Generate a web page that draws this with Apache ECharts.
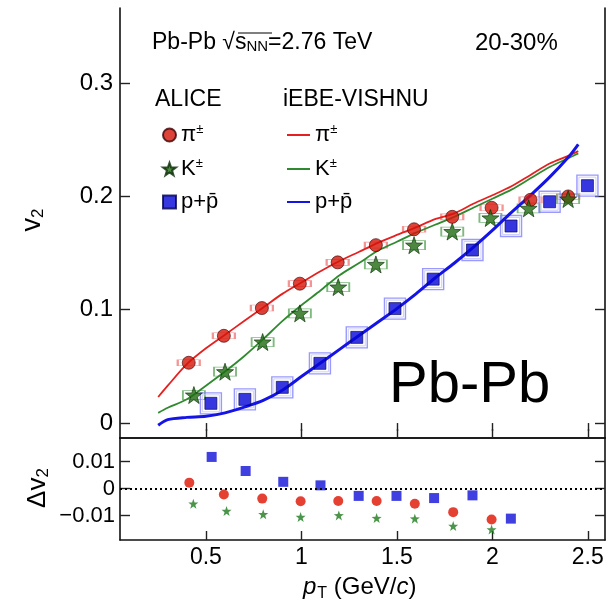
<!DOCTYPE html>
<html>
<head>
<meta charset="utf-8">
<script src="https://cdn.jsdelivr.net/npm/echarts@6/dist/echarts.min.js"></script>
<style>
html,body{margin:0;padding:0;background:#fff;}
#chart{width:616px;height:610px;}
</style>
</head>
<body>
<div id="chart"></div>
<script>
// ---------- data ----------
const pionPt   = [0.41, 0.594, 0.793, 0.992, 1.19, 1.39, 1.59, 1.79, 1.996, 2.2, 2.397];
const pionV2   = [0.0532, 0.077, 0.1015, 0.123, 0.1418, 0.157, 0.171, 0.182, 0.190, 0.197, 0.200];
const kaonPt   = [0.437, 0.60, 0.797, 0.992, 1.193, 1.39, 1.59, 1.79, 1.99, 2.19, 2.397];
const kaonV2   = [0.0247, 0.0453, 0.0715, 0.0968, 0.120, 0.140, 0.157, 0.169, 0.181, 0.1895, 0.1977];
const protonPt = [0.526, 0.704, 0.90, 1.097, 1.29, 1.49, 1.69, 1.896, 2.098, 2.30, 2.498];
const protonV2 = [0.0174, 0.0209, 0.0315, 0.0527, 0.0756, 0.101, 0.127, 0.1527, 0.1739, 0.1953, 0.2095];

const modelPt     = [0.25, 0.3, 0.4, 0.5, 0.6, 0.7, 0.8, 0.9, 1.0, 1.1, 1.2, 1.3, 1.4, 1.5, 1.6, 1.7, 1.8, 1.9, 2.0, 2.1, 2.2, 2.3, 2.4, 2.45];
const pionModel   = [0.023, 0.033, 0.052, 0.066, 0.078, 0.090, 0.102, 0.114, 0.124, 0.134, 0.143, 0.151, 0.159, 0.166, 0.1727, 0.180, 0.185, 0.1935, 0.201, 0.209, 0.219, 0.229, 0.236, 0.240];
const kaonModel   = [0.009, 0.0135, 0.021, 0.033, 0.0455, 0.059, 0.074, 0.090, 0.104, 0.117, 0.1305, 0.141, 0.152, 0.160, 0.168, 0.175, 0.182, 0.190, 0.198, 0.206, 0.216, 0.226, 0.234, 0.238];
const protonModel = [-0.002, 0.003, 0.005, 0.006, 0.009, 0.014, 0.020, 0.029, 0.041, 0.053, 0.065, 0.077, 0.089, 0.101, 0.114, 0.128, 0.141, 0.155, 0.170, 0.186, 0.201, 0.217, 0.235, 0.246];

const dPionPt   = [0.413, 0.594, 0.795, 0.996, 1.193, 1.394, 1.594, 1.795, 1.996];
const dPion     = [0.0022, -0.0022, -0.0037, -0.0047, -0.0046, -0.0046, -0.0056, -0.0087, -0.0114];
const dKaonPt   = [0.434, 0.608, 0.80, 0.996, 1.196, 1.394, 1.594, 1.795, 1.996];
const dKaon     = [-0.0056, -0.0083, -0.0095, -0.0105, -0.0099, -0.0109, -0.0111, -0.0138, -0.0151];
const dProtonPt = [0.53, 0.708, 0.905, 1.10, 1.30, 1.498, 1.695, 1.896, 2.097];
const dProton   = [0.0117, 0.0065, 0.0025, 0.0012, -0.0027, -0.0027, -0.0035, -0.0025, -0.0111];

const xTicks   = [0.5, 1, 1.5, 2, 2.5];
const yTicks   = [0, 0.1, 0.2, 0.3];
const dyTicks  = [-0.01, 0, 0.01];

// ---------- helpers ----------
const zip = (a, b) => a.map((v, i) => [v, b[i]]);
const FONT = '"Liberation Sans", Arial, Helvetica, sans-serif';
const STAR = 'path://M10,0L12.351,6.764L19.511,6.910L13.804,11.236L15.878,18.090L10,14L4.122,18.090L6.196,11.236L0.489,6.910L7.649,6.764Z';
const RED = '#d51408', GREEN = '#1f6a10', BLUE = '#0505d8';
const RED_L = '#e62020', GREEN_L = '#2f8a2f', BLUE_L = '#1414e6';

const X_MIN = 0.05, X_MAX = 2.59;
const Y_MIN = -0.0132, Y_MAX = 0.3663;
const D_MIN = -0.019, D_MAX = 0.0187;

function xAx(grid, pos, opts) {
  return Object.assign({
    type: 'value', gridIndex: grid, position: pos, min: X_MIN, max: X_MAX,
    splitLine: {show: false},
    axisLine: {show: true, onZero: false, lineStyle: {color: '#111', width: 1.6}},
    axisTick: {show: true, inside: true, length: 9, customValues: xTicks, lineStyle: {color: '#222', width: 1.4}},
    axisLabel: {show: false, customValues: xTicks}
  }, opts || {});
}
function yAx(grid, pos, mn, mx, ticks, opts) {
  return Object.assign({
    type: 'value', gridIndex: grid, position: pos, min: mn, max: mx,
    splitLine: {show: false},
    axisLine: {show: true, onZero: false, lineStyle: {color: '#111', width: 1.6}},
    axisTick: {show: true, inside: true, length: 10, customValues: ticks, lineStyle: {color: '#222', width: 1.4}},
    axisLabel: {show: false, customValues: ticks}
  }, opts || {});
}

const legendRich = {
  b: {fontSize: 22, fontFamily: FONT, color: '#000', lineHeight: 24},
  sup: {fontSize: 13, fontFamily: FONT, color: '#000', verticalAlign: 'top', lineHeight: 24, padding: [0, 0, 10, 0]}
};
function legendFmt(name) {
  if (name.endsWith('π')) return '{b|π}{sup|±}';
  if (name.endsWith('K')) return '{b|K}{sup|±}';
  return '{b|p+p\u0304}';
}

const option = {
  backgroundColor: '#fff',
  animation: false,
  grid: [
    {left: 120, right: 11, top: 8, bottom: 172},
    {left: 120, right: 11, top: 438, bottom: 70}
  ],
  xAxis: [
    xAx(0, 'bottom'),
    xAx(0, 'top', {axisLine: {show: false}, axisTick: {show: true, inside: true, length: 8, customValues: xTicks, lineStyle: {color: '#222', width: 1.4}}}),
    xAx(1, 'bottom', {axisLabel: {show: true, customValues: xTicks, fontSize: 23, fontFamily: FONT, color: '#000', margin: 6,
      formatter: v => String(+v.toFixed(2))}}),
    xAx(1, 'top', {axisTick: {show: false}})
  ],
  yAxis: [
    yAx(0, 'left', Y_MIN, Y_MAX, yTicks, {axisLabel: {show: true, customValues: yTicks, fontSize: 24, fontFamily: FONT, color: '#000', margin: 7,
      formatter: v => String(+v.toFixed(2))}}),
    yAx(0, 'right', Y_MIN, Y_MAX, yTicks),
    yAx(1, 'left', D_MIN, D_MAX, dyTicks, {axisLabel: {show: true, customValues: dyTicks, fontSize: 22, fontFamily: FONT, color: '#000', margin: 5,
      formatter: v => { const s = String(+v.toFixed(3)); return s.replace('-', '\u2212'); }}}),
    yAx(1, 'right', D_MIN, D_MAX, dyTicks)
  ],
  legend: [
    {
      left: 162, top: 123, orient: 'vertical', padding: 0, itemGap: 11,
      itemWidth: 13, itemHeight: 13, selectedMode: false,
      data: ['ALICE π', 'ALICE K', 'ALICE p'],
      formatter: legendFmt,
      textStyle: {fontSize: 22, fontFamily: FONT, color: '#000', rich: legendRich}
    },
    {
      left: 287, top: 123, orient: 'vertical', padding: 0, itemGap: 11,
      itemWidth: 23, itemHeight: 2, selectedMode: false,
      data: [
        {name: 'VISHNU π', icon: 'rect', itemStyle: {color: RED_L}},
        {name: 'VISHNU K', icon: 'rect', itemStyle: {color: GREEN_L}},
        {name: 'VISHNU p', icon: 'rect', itemStyle: {color: BLUE_L}}
      ],
      formatter: legendFmt,
      textStyle: {fontSize: 22, fontFamily: FONT, color: '#000', rich: legendRich}
    }
  ],
  graphic: [
    {type: 'text', left: 152, top: 31, style: {
      text: '{a|Pb-Pb }{r|\u221A}{s|s}{n|NN}{a|=2.76 TeV}',
      rich: {
        a: {fontSize: 23, fontFamily: FONT, fill: '#000', color: '#000'},
        r: {fontSize: 23, fontFamily: FONT, fill: '#000', color: '#000'},
        s: {fontSize: 23, fontFamily: FONT, fill: '#000', color: '#000'},
        n: {fontSize: 15, fontFamily: FONT, fill: '#000', color: '#000', verticalAlign: 'bottom', padding: [8, 0, 0, 0]}
      }}},
    {type: 'line', shape: {x1: 238, y1: 33, x2: 272, y2: 33}, style: {stroke: '#000', lineWidth: 1.2}},
    {type: 'text', left: 475, top: 31, style: {text: '20-30%', fontSize: 24, fontFamily: FONT, fill: '#000'}},
    {type: 'text', left: 155, top: 88, style: {text: 'ALICE', fontSize: 23, fontFamily: FONT, fill: '#000'}},
    {type: 'text', left: 283, top: 88, style: {text: 'iEBE-VISHNU', fontSize: 23, fontFamily: FONT, fill: '#000'}},
    {type: 'text', left: 389, top: 357, style: {text: 'Pb-Pb', fontSize: 58, fontFamily: FONT, fill: '#000'}},
    {type: 'text', x: 33, y: 220, rotation: Math.PI / 2, style: {
      text: '{v|v}{s|2}', textAlign: 'center', textVerticalAlign: 'middle', align: 'center', verticalAlign: 'middle',
      rich: {v: {fontSize: 27, fontFamily: FONT, fill: '#000'}, s: {fontSize: 17, fontFamily: FONT, fill: '#000', verticalAlign: 'bottom', padding: [10, 0, 0, 0]}}}},
    {type: 'text', x: 38, y: 488, rotation: Math.PI / 2, style: {
      text: '{v|\u0394v}{s|2}', textAlign: 'center', textVerticalAlign: 'middle', align: 'center', verticalAlign: 'middle',
      rich: {v: {fontSize: 26, fontFamily: FONT, fill: '#000'}, s: {fontSize: 17, fontFamily: FONT, fill: '#000', verticalAlign: 'bottom', padding: [10, 0, 0, 0]}}}},
    {type: 'text', left: 303, top: 575, style: {
      text: '{p|p}{t|T}{a| (GeV/}{c|c}{a|)}',
      rich: {
        p: {fontSize: 24, fontFamily: FONT, fontStyle: 'italic', fill: '#000'},
        t: {fontSize: 16, fontFamily: FONT, fill: '#000', verticalAlign: 'bottom', padding: [14, 0, 0, 1]},
        a: {fontSize: 24, fontFamily: FONT, fill: '#000'},
        c: {fontSize: 24, fontFamily: FONT, fontStyle: 'italic', fill: '#000'}
      }}}
  ],
  series: [
    // systematic boxes
    {type: 'scatter', xAxisIndex: 0, yAxisIndex: 0, data: zip(pionPt, pionV2), symbol: 'rect', symbolSize: [22, 6], z: 2, silent: true,
      itemStyle: {color: 'rgba(0,0,0,0)', borderColor: '#f07a7a', borderWidth: 1.2}},
    {type: 'scatter', xAxisIndex: 0, yAxisIndex: 0, data: zip(kaonPt, kaonV2), symbol: 'rect', symbolSize: [22, 9], z: 2, silent: true,
      itemStyle: {color: 'rgba(0,0,0,0)', borderColor: '#5ea85e', borderWidth: 1.2}},
    {type: 'scatter', xAxisIndex: 0, yAxisIndex: 0, data: zip(protonPt, protonV2), symbol: 'rect', symbolSize: [21, 21], z: 2, silent: true,
      itemStyle: {color: 'rgba(0,0,0,0)', borderColor: '#8080ff', borderWidth: 1.4}},
    {type: 'scatter', xAxisIndex: 0, yAxisIndex: 0, data: zip(protonPt, protonV2), symbol: 'rect', symbolSize: [17, 17], z: 2, silent: true,
      itemStyle: {color: 'rgba(0,0,0,0)', borderColor: '#c4c4ff', borderWidth: 1}},
    // model curves
    {name: 'VISHNU π', type: 'line', xAxisIndex: 0, yAxisIndex: 0, data: zip(modelPt, pionModel), symbol: 'none', showSymbol: false, smooth: 0.3, z: 3,
      lineStyle: {color: RED_L, width: 1.8}, itemStyle: {color: RED_L}},
    {name: 'VISHNU K', type: 'line', xAxisIndex: 0, yAxisIndex: 0, data: zip(modelPt, kaonModel), symbol: 'none', showSymbol: false, smooth: 0.3, z: 3,
      lineStyle: {color: GREEN_L, width: 1.8}, itemStyle: {color: GREEN_L}},
    {name: 'VISHNU p', type: 'line', xAxisIndex: 0, yAxisIndex: 0, data: zip(modelPt, protonModel), symbol: 'none', showSymbol: false, smooth: 0.3, z: 3,
      lineStyle: {color: BLUE_L, width: 3}, itemStyle: {color: BLUE_L}},
    // ALICE data
    {name: 'ALICE π', type: 'scatter', xAxisIndex: 0, yAxisIndex: 0, data: zip(pionPt, pionV2), symbol: 'circle', symbolSize: 13, z: 4,
      itemStyle: {color: RED, borderColor: '#3a0000', borderWidth: 0.8}},
    {name: 'ALICE K', type: 'scatter', xAxisIndex: 0, yAxisIndex: 0, data: zip(kaonPt, kaonV2), symbol: STAR, symbolSize: 17, z: 4,
      itemStyle: {color: GREEN, borderColor: '#0a2a05', borderWidth: 0.8}},
    {name: 'ALICE p', type: 'scatter', xAxisIndex: 0, yAxisIndex: 0, data: zip(protonPt, protonV2), symbol: 'rect', symbolSize: 12, z: 4,
      itemStyle: {color: BLUE, borderColor: '#000050', borderWidth: 0.8}},
    // difference panel
    {type: 'scatter', xAxisIndex: 2, yAxisIndex: 2, data: zip(dPionPt, dPion), symbol: 'circle', symbolSize: 10, z: 4,
      itemStyle: {color: '#dd1100'},
      markLine: {silent: true, symbol: 'none', label: {show: false},
        lineStyle: {color: '#000', type: [2, 3], width: 2}, data: [{yAxis: 0}]}},
    {type: 'scatter', xAxisIndex: 2, yAxisIndex: 2, data: zip(dKaonPt, dKaon), symbol: STAR, symbolSize: 10, z: 4,
      itemStyle: {color: '#1e7a1e'}},
    {type: 'scatter', xAxisIndex: 2, yAxisIndex: 2, data: zip(dProtonPt, dProton), symbol: 'rect', symbolSize: 10, z: 4,
      itemStyle: {color: '#1010d8'}}
  ]
};

const chart = echarts.init(document.getElementById('chart'), null, {renderer: 'canvas'});
chart.setOption(option);
</script>
</body>
</html>
